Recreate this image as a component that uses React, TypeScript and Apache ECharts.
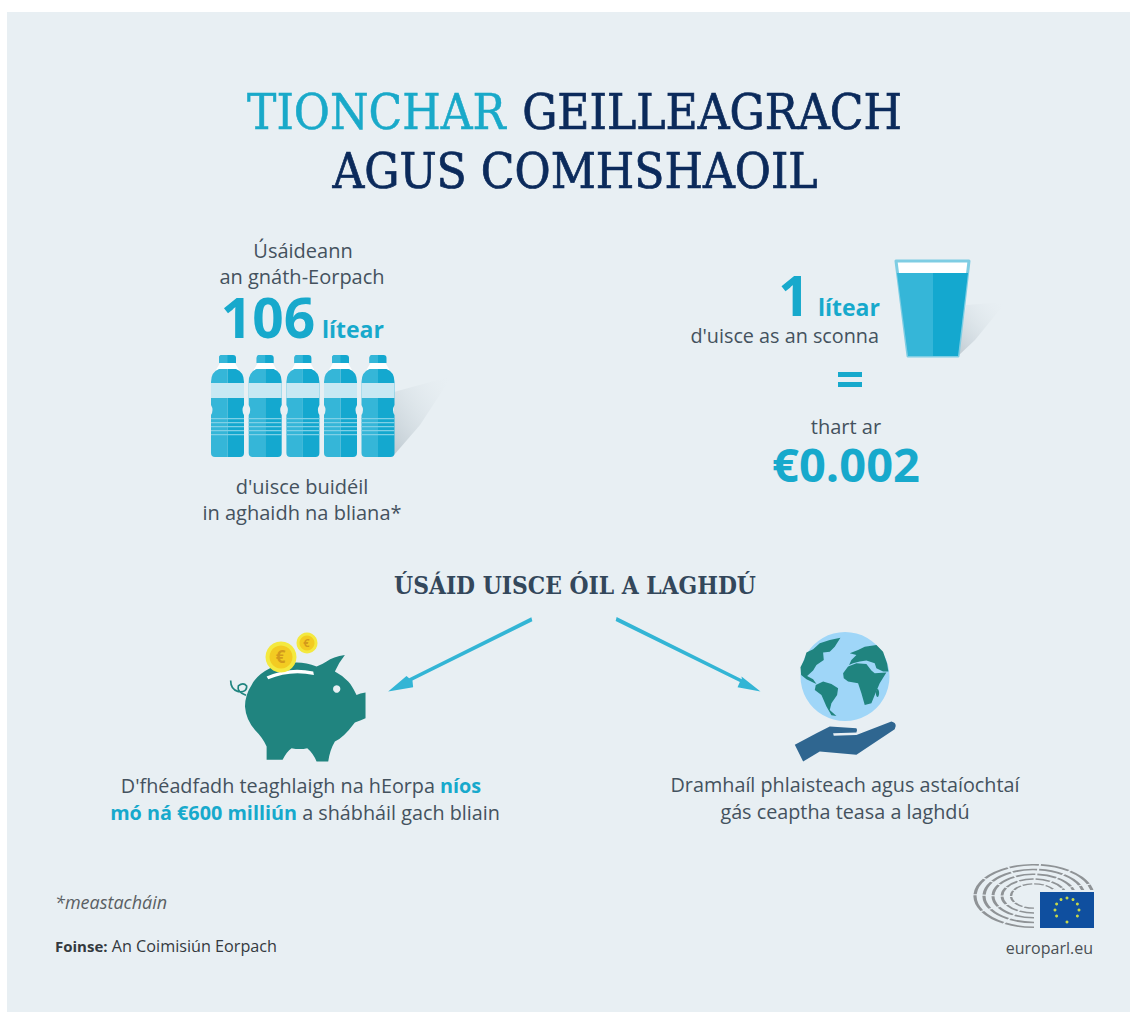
import React, { useEffect, useRef } from "react";
import * as echarts from "echarts";

const titleAccent = "TIONCHAR";
const titleLine1 = "GEILLEAGRACH";
const titleLine2 = "AGUS COMHSHAOIL";
const leftIntro = ["Úsáideann", "an gnáth-Eorpach"];
const leftValue = "106";
const unit = "lítear";
const leftOutro = ["d'uisce buidéil", "in aghaidh na bliana*"];
const rightValue = "1";
const rightCaption = "d'uisce as an sconna";
const rightAbout = "thart ar";
const rightPrice = "€0.002";
const subheading = "ÚSÁID UISCE ÓIL A LAGHDÚ";
const pigLine1 = ["D'fhéadfadh teaghlaigh na hEorpa ", "níos"];
const pigLine2 = ["mó ná €600 milliún", " a shábháil gach bliain"];
const globeLines = ["Dramhaíl phlaisteach agus astaíochtaí", "gás ceaptha teasa a laghdú"];
const footnote = "*meastacháin";
const sourceLabel = "Foinse:";
const sourceText = " An Coimisiún Eorpach";
const logoText = "europarl.eu";

const BG = "#e8eff3";
const TEAL = "#17a9cc";
const INK = "#44525e";
const NAVY = "#0b2a5b";
const SANS = "'Open Sans', sans-serif";
const SLAB = "'DejaVu Serif Condensed', 'DejaVu Serif', serif";
const GREEN = "#20847f";
const L_WATER = "#35b6d8";
const R_WATER = "#14a8cf";

const reg = (n: string, d: string) =>
  echarts.graphic.registerShape(n, echarts.graphic.extendPath(d, {}) as any);

reg("bottleL", "M16.5 14 L8 14 Q0 17 0 27 L0 50 Q3 55 0 60 L0 98 Q0 102 4 102 L16.5 102 Z");
reg("bottleR", "M16.5 14 L25 14 Q33 17 33 27 L33 50 Q30 55 33 60 L33 98 Q33 102 29 102 L16.5 102 Z");
reg("pig", "M140 450 L188 450 Q200 425 215 415 Q240 420 262 415 Q280 430 290 455 L325 455 Q330 420 345 395 Q370 385 405 338 Q425 330 437 325 L437 248 Q420 250 410 255 Q395 225 385 215 Q365 195 345 185 Q355 160 375 135 Q340 140 320 155 Q305 165 290 170 Q260 158 230 158 Q180 158 150 175 Q110 195 95 225 Q75 255 75 290 Q78 330 105 360 Q130 385 140 410 Z");
reg("slot", "M140 200 Q210 168 280 185 L282 195 Q210 180 145 208 Z");
reg("tail", "M32 212 Q32 240 55 245 Q82 248 80 228 Q70 216 55 228 Q50 245 78 256");
reg("leftArrow", "M935 22 L938 34 L578 212 L580 232 L505 245 L560 198 L568 205 Z");
reg("rightArrow", "M50 21 L47 33 L420 216 L413 232 L482 245 L425 200 L426 208 Z");
reg("naMap", "M722 83 L690 90 L660 100 L640 118 L620 128 L613 150 L602 172 L604 195 L620 208 L640 218 L650 222 L640 208 L622 198 L640 182 L650 165 L672 150 L670 128 L690 125 L705 110 Z");
reg("saMap", "M648 225 L670 215 L695 222 L715 235 L712 255 L695 280 L690 300 L710 318 L695 316 L680 290 L665 255 L645 240 Z");
reg("afMap", "M730 190 L745 170 L770 160 L800 162 L815 182 L825 190 L860 188 L840 220 L825 255 L815 280 L795 285 L785 250 L775 220 L745 215 L732 205 Z");
reg("euMap", "M750 130 L775 120 L795 110 L830 105 L850 125 L862 160 L866 185 L850 185 L830 175 L825 160 L800 152 L780 155 L760 160 L748 165 L755 150 L770 135 Z");
reg("hand", "M585 405 L650 370 L690 350 L770 355 Q775 362 770 368 L700 370 L702 378 L770 375 L875 335 Q888 338 888 348 L885 358 L770 435 L660 425 L610 455 Z");

const txt = (text: string, x: number, baseline: number, size: number, fill: string, extra: any = {}) => ({
  type: "text",
  x,
  y: baseline - (extra.fontFamily === SLAB ? 0.35 : 0.385) * size,
  style: { text, fill, fontSize: size, fontFamily: SANS, align: "center", verticalAlign: "middle", ...extra },
});

const z3 = (shape: string, ox: number, oy: number, fill: string, extra: any = {}) => ({
  type: shape,
  x: ox,
  y: oy,
  scaleX: 1 / 3,
  scaleY: 1 / 3,
  style: { fill, ...extra },
});

function bottle(x: number): any[] {
  const y = 355;
  const items: any[] = [
    { type: "rect", x: x + 8, y, shape: { width: 17, height: 8, r: [3, 3, 0, 0] }, style: { fill: R_WATER } },
    { type: "rect", x: x + 8, y, shape: { width: 8.5, height: 8, r: [3, 0, 0, 0] }, style: { fill: L_WATER } },
    { type: "polygon", shape: { points: [[x + 9, y + 8], [x + 24, y + 8], [x + 28, y + 15], [x + 5, y + 15]] }, style: { fill: "#ffffff" } },
    { type: "bottleL", x, y, style: { fill: L_WATER } },
    { type: "bottleR", x, y, style: { fill: R_WATER } },
    { type: "rect", x, y: y + 28, shape: { width: 33, height: 15 }, style: { fill: "#c8e8f3" } },
  ];
  [63, 67, 71, 75, 79].forEach((d) =>
    items.push({ type: "rect", x, y: y + d, shape: { width: 33, height: 1.2 }, style: { fill: "#7fd0e6" } })
  );
  return items;
}

const fade = (x: number, y: number, x2: number, y2: number) =>
  new echarts.graphic.LinearGradient(x, y, x2, y2, [
    { offset: 0, color: "rgba(150,165,175,0.5)" },
    { offset: 1, color: "rgba(232,239,243,0)" },
  ]);

function stars(cx: number, cy: number, r: number): any[] {
  const out: any[] = [];
  for (let i = 0; i < 12; i++) {
    const a = (i * Math.PI) / 6;
    out.push({ type: "circle", shape: { cx: cx + r * Math.cos(a), cy: cy + r * Math.sin(a), r: 1.5 }, style: { fill: "#c8d84a" } });
  }
  return out;
}

function hemicycle(): any[] {
  const rings = [
    [59, 3.2, [30, 2]],
    [50, 3.2, [25, 2]],
    [41, 3, [20, 2]],
    [32, 2.8, [15, 2]],
    [23, 2.4, [10, 2]],
  ] as any[];
  return rings.map(([r, w, d]) => ({
    type: "arc",
    x: 1034,
    y: 896,
    scaleY: 0.53,
    shape: { cx: 0, cy: 0, r, startAngle: Math.PI / 2, endAngle: Math.PI * 2 - 0.05, clockwise: true },
    style: { fill: "none", stroke: "#8f9396", lineWidth: w, lineDash: d },
  }));
}

export default function App() {
  const ref = useRef<HTMLDivElement>(null);
  useEffect(() => {
    const chart = echarts.init(ref.current!, null, { renderer: "svg" });
    const heavy = { stroke: NAVY, lineWidth: 0.7 };
    const rich = {
      a: { fill: INK, fontSize: 19.8, fontFamily: SANS },
      b: { fill: TEAL, fontSize: 19.8, fontFamily: SANS, fontWeight: 700 },
    };
    const elements: any[] = [
      { type: "rect", x: 7, y: 12, shape: { width: 1123, height: 1000 }, style: { fill: BG } },

      txt(titleAccent, 247, 129.5, 49, "#19a9c9", { align: "left", fontFamily: SLAB, stroke: "#19a9c9", lineWidth: 0.5 }),
      txt(titleLine1, 902, 129.5, 49, NAVY, { align: "right", fontFamily: SLAB, ...heavy }),
      txt(titleLine2, 575, 189, 49, NAVY, { fontFamily: SLAB, ...heavy }),

      txt(leftIntro[0], 303, 258, 20, INK),
      txt(leftIntro[1], 302, 284, 20, INK),
      txt(leftValue, 268, 338, 55, TEAL, { fontWeight: 700 }),
      txt(unit, 322, 338, 23, TEAL, { fontWeight: 700, align: "left" }),
      { type: "polygon", shape: { points: [[394, 455], [394, 392], [452, 376], [420, 425]] }, style: { fill: fade(0, 1, 1, 0) } },
      ...[211, 248.7, 286.4, 324, 361.5].flatMap(bottle),
      txt(leftOutro[0], 302, 494, 20, INK),
      txt(leftOutro[1], 302, 520, 20, INK),

      { type: "polygon", shape: { points: [[958, 356], [966, 305], [1006, 302], [975, 340]] }, style: { fill: fade(0, 1, 1, 0) } },
      txt(rightValue, 794, 316, 55, TEAL, { fontWeight: 700 }),
      txt(unit, 818, 316, 23, TEAL, { fontWeight: 700, align: "left" }),
      txt(rightCaption, 879, 343, 19.8, INK, { align: "right" }),
      { type: "polygon", shape: { points: [[896, 261], [969, 261], [958, 356], [908, 356]] }, style: { fill: "#ffffff", stroke: "#7fcde3", lineWidth: 3, lineJoin: "round" } },
      { type: "polygon", shape: { points: [[897, 273], [933, 273], [933, 356], [908, 356]] }, style: { fill: L_WATER } },
      { type: "polygon", shape: { points: [[933, 273], [968, 273], [958, 356], [933, 356]] }, style: { fill: R_WATER } },
      { type: "rect", x: 838, y: 372, shape: { width: 24, height: 5 }, style: { fill: TEAL } },
      { type: "rect", x: 838, y: 382, shape: { width: 24, height: 5 }, style: { fill: TEAL } },
      txt(rightAbout, 846, 434, 20, INK),
      txt(rightPrice, 846, 482, 47, TEAL, { fontWeight: 700 }),

      txt(subheading, 575, 594, 24.3, "#33475b", { fontWeight: 700, fontFamily: SLAB }),

      z3("leftArrow", 220, 610, "#33b5d5"),
      z3("rightArrow", 600, 610, "#33b5d5"),

      z3("tail", 220, 610, "none", { stroke: GREEN, lineWidth: 5 }),
      z3("pig", 220, 610, GREEN),
      z3("slot", 220, 610, "#ffffff"),
      { type: "circle", shape: { cx: 336.7, cy: 689, r: 3.7 }, style: { fill: BG } },
      { type: "circle", shape: { cx: 281, cy: 657, r: 15.5 }, style: { fill: "#f4e93f" } },
      { type: "circle", shape: { cx: 281, cy: 657, r: 11.5 }, style: { fill: "#f3cb22" } },
      txt("€", 280.5, 663, 17, "#d39a1c", { fontWeight: 700 }),
      { type: "circle", shape: { cx: 307, cy: 643, r: 10.5 }, style: { fill: "#f4e93f" } },
      { type: "circle", shape: { cx: 307, cy: 643, r: 7.5 }, style: { fill: "#f3cb22" } },
      txt("€", 306.5, 647, 11, "#d39a1c", { fontWeight: 700 }),

      { type: "circle", shape: { cx: 845, cy: 676.5, r: 44.5 }, style: { fill: "#9fd6f8" } },
      z3("naMap", 600, 610, GREEN),
      z3("saMap", 600, 610, GREEN),
      z3("afMap", 600, 610, GREEN),
      z3("euMap", 600, 610, GREEN),
      { type: "ellipse", shape: { cx: 877.5, cy: 693, rx: 1.6, ry: 4 }, style: { fill: GREEN } },
      z3("hand", 600, 610, "#2f6690"),

      {
        type: "text",
        x: 301,
        y: 785,
        style: { rich, text: `{a|${pigLine1[0]}}{b|${pigLine1[1]}}`, align: "center", verticalAlign: "middle" },
      },
      {
        type: "text",
        x: 305,
        y: 812,
        style: { rich, text: `{b|${pigLine2[0]}}{a|${pigLine2[1]}}`, align: "center", verticalAlign: "middle" },
      },
      txt(globeLines[0], 845, 792, 19.8, INK),
      txt(globeLines[1], 845, 819, 19.8, INK),

      txt(footnote, 55, 909, 18, "#5a5f63", { align: "left", fontStyle: "italic" }),
      {
        type: "text",
        x: 55,
        y: 946,
        style: {
          rich: {
            a: { fill: "#33393e", fontSize: 16.2, fontFamily: SANS },
            b: { fill: "#33393e", fontSize: 15, fontFamily: SANS, fontWeight: 700 },
          },
          text: `{b|${sourceLabel}}{a|${sourceText}}`,
          align: "left",
          verticalAlign: "middle",
        },
      },

      ...hemicycle(),
      { type: "rect", x: 1038, y: 890, shape: { width: 57, height: 39 }, style: { fill: BG } },
      { type: "rect", x: 1040, y: 892, shape: { width: 54, height: 36 }, style: { fill: "#0f4f9f" } },
      ...stars(1067, 910, 12),
      txt(logoText, 1093, 954, 16, "#4a5054", { align: "right" }),
    ];
    chart.setOption({ animation: false, graphic: { elements } });
    return () => chart.dispose();
  }, []);
  return <div ref={ref} style={{ position: "absolute", left: 0, top: 0, width: 1130, height: 1012, background: "#fff" }} />;
}
